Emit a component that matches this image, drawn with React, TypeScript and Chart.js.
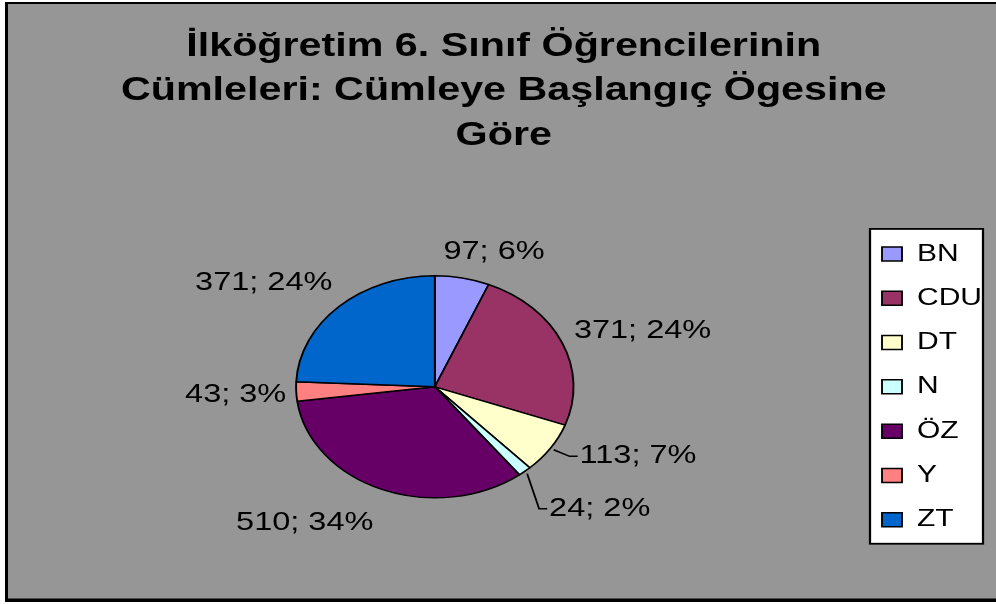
import React, { useEffect, useRef } from 'react';
import { Chart, registerables } from 'chart.js';

Chart.register(...registerables);

// ---- data ----
const categories = ['BN', 'CDU', 'DT', 'N', 'ÖZ', 'Y', 'ZT'];
const counts = [97, 371, 113, 24, 510, 43, 371];
const percents = [6, 24, 7, 2, 34, 3, 24];
const titleLines = [
  'İlköğretim 6. Sınıf Öğrencilerinin',
  'Cümleleri: Cümleye Başlangıç Ögesine',
  'Göre',
];

// ---- style ----
const colors = ['#9999FF', '#993366', '#FFFFCC', '#CCFFFF', '#660066', '#FF8080', '#0066CC'];
const labelNudge = [[15, -3], [3, -2], [21, -5], [26, 19], [-36, 11], [4, 2], [-14, -6]];
const labelLeader = [false, false, true, true, false, false, false];

const SX = 1.25; // horizontal stretch of the whole drawing
const W = 996;
const H = 604;
const FONT = "'Liberation Sans', Arial, sans-serif";

const framePlugin = {
  id: 'frame',
  beforeDraw(chart: any) {
    const ctx = chart.ctx as CanvasRenderingContext2D;
    ctx.save();
    ctx.setTransform(1, 0, 0, 1, 0, 0);
    ctx.fillStyle = '#ffffff';
    ctx.fillRect(0, 0, W, H);
    ctx.fillStyle = '#000000';
    ctx.fillRect(5, 2, W - 5, 600);
    ctx.fillStyle = '#969696';
    ctx.fillRect(8, 4, W - 8, 594.5);
    ctx.restore();

    ctx.save();
    ctx.scale(SX, 1);

    const hb = chart.legend && chart.legend.legendHitBoxes;
    if (hb && hb.length) {
      const first = hb[0];
      const last = hb[hb.length - 1];
      const maxW = Math.max(...hb.map((b: any) => b.width));
      const x = first.left - 9.6;
      const y = first.top - 13;
      const w = maxW + 10.4;
      const h = last.top + last.height + 12 - y;
      ctx.fillStyle = '#ffffff';
      ctx.fillRect(x, y, w, h);
      ctx.strokeStyle = '#000000';
      ctx.lineWidth = 1.8;
      ctx.strokeRect(x, y, w, h);
    }
  },
  afterDatasetsDraw(chart: any) {
    const ctx = chart.ctx as CanvasRenderingContext2D;
    const meta = chart.getDatasetMeta(0);
    ctx.save();
    ctx.font = `26px ${FONT}`;
    ctx.fillStyle = '#000000';
    ctx.strokeStyle = '#000000';
    ctx.lineWidth = 1.5;
    ctx.textAlign = 'center';
    ctx.textBaseline = 'middle';
    meta.data.forEach((arc: any, i: number) => {
      const { x, y, startAngle, endAngle, outerRadius } = arc.getProps(
        ['x', 'y', 'startAngle', 'endAngle', 'outerRadius'],
        true
      );
      const mid = (startAngle + endAngle) / 2;
      const c = Math.cos(mid);
      const s = Math.sin(mid);
      const text = `${counts[i]}; ${percents[i]}%`;
      const w = ctx.measureText(text).width;
      const px = x + c * (outerRadius + 12);
      const py = y + s * (outerRadius + 12);
      const cx = px + (c * w) / 2 + labelNudge[i][0];
      const cy = py + s * 12 + labelNudge[i][1];
      if (labelLeader[i]) {
        const left = cx - w / 2;
        ctx.beginPath();
        ctx.moveTo(x + c * (outerRadius + 3), y + s * (outerRadius + 3));
        ctx.lineTo(left - 8, cy);
        ctx.lineTo(left - 1.5, cy);
        ctx.stroke();
      }
      ctx.fillText(text, cx, cy);
    });
    ctx.restore();
  },
  afterDraw(chart: any) {
    chart.ctx.restore();
  },
};

export default function App() {
  const ref = useRef<HTMLCanvasElement | null>(null);

  useEffect(() => {
    if (!ref.current) return;
    const chart = new Chart(ref.current, {
      type: 'pie',
      data: {
        labels: categories,
        datasets: [
          {
            data: counts,
            backgroundColor: colors,
            borderColor: '#000000',
            borderWidth: 1.5,
          },
        ],
      },
      options: {
        responsive: false,
        animation: false,
        events: [],
        radius: 111,
        layout: {
          padding: { left: 10.4, right: 200.4, top: 0, bottom: 0 },
        },
        plugins: {
          tooltip: { enabled: false },
          title: {
            display: true,
            text: titleLines,
            color: '#000000',
            font: { family: FONT, size: 33, weight: 'bold', lineHeight: 1.34 },
            padding: { top: 25, bottom: 12 },
          },
          legend: {
            display: true,
            position: 'right',
            fullSize: false,
            labels: {
              color: '#000000',
              font: { family: FONT, size: 24 },
              boxWidth: 16,
              boxHeight: 14,
              padding: 20.3,
            },
          },
        },
      } as any,
      plugins: [framePlugin],
    });
    return () => chart.destroy();
  }, []);

  return (
    <div style={{ position: 'fixed', left: 0, top: 0, width: W, height: H, background: '#fff' }}>
      <canvas ref={ref} width={W} height={H} style={{ display: 'block' }} />
    </div>
  );
}
